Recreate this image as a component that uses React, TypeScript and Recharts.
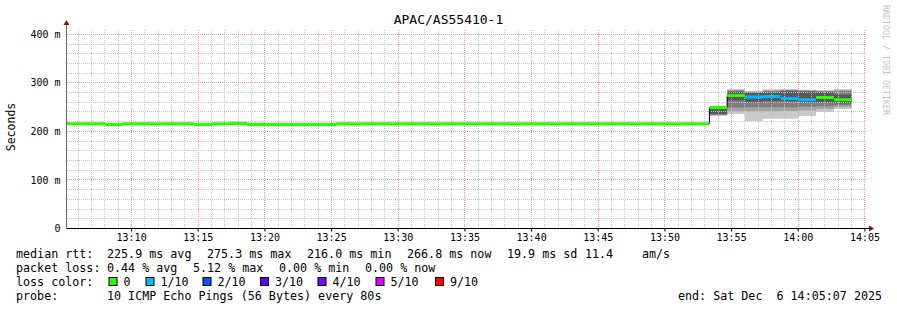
import { ComposedChart, Area, Line, XAxis, YAxis, ReferenceLine } from "recharts";

const TITLE = "APAC/AS55410-1";
const Y_LABEL = "Seconds";
const WATERMARK = "RRDTOOL / TOBI OETIKER";

// time range of the graph
const RANGE_END = "14:05:07";
const RANGE_SECONDS = 3600;
const FIRST_SAMPLE = "13:04:00";
const STEP_SECONDS = 80;

const X_TICK_LABELS = [
  "13:10", "13:15", "13:20", "13:25", "13:30", "13:35",
  "13:40", "13:45", "13:50", "13:55", "14:00", "14:05",
];
const Y_TICKS = [0, 100, 200, 300, 400];
const Y_MAX = 412;

// median rtt per 80s sample (ms)
const MEDIAN = [
  216, 216, 216, 214, 216, 216, 216, 216, 214, 216, 216.5, 214, 214, 214, 214, 214,
  216, 216, 216, 216, 216, 216, 216, 216, 216, 216, 216, 216, 216, 216, 216, 216,
  216, 216, 216, 216, 216,
  249.5, 274, 271, 272, 268, 265, 270, 265,
];
// lost pings out of 10 per sample
const LOSS = [
  0, 0, 0, 0, 0, 0, 0, 0, 0, 0, 0, 0, 0, 0, 0, 0,
  0, 0, 0, 0, 0, 0, 0, 0, 0, 0, 0, 0, 0, 0, 0, 0,
  0, 0, 0, 0, 0,
  0, 0, 1, 1, 1, 1, 0, 0,
];
// smoke bands, outer (lightest) to inner (darkest)
const B1_LO = [
  216, 216, 216, 214, 216, 216, 216, 216, 214, 216, 216.5, 214, 214, 214, 214, 214,
  216, 216, 216, 216, 216, 216, 216, 216, 216, 216, 216, 216, 216, 216, 216, 216,
  216, 216, 216, 216, 216,
  232, 236, 221, 226, 226, 232, 240, 246,
];
const B1_HI = [
  216, 216, 216, 214, 216, 216, 216, 216, 214, 216, 220.5, 218.5, 214, 214, 214, 214,
  216, 216, 216, 216, 216, 216, 216, 216, 216, 216, 216, 216, 216, 216, 216, 216,
  216, 216, 216, 216, 216,
  250.5, 287, 283, 287, 287, 286, 285, 287,
];
const B2_LO = [
  216, 216, 216, 214, 216, 216, 216, 216, 214, 216, 216.5, 214, 214, 214, 214, 214,
  216, 216, 216, 216, 216, 216, 216, 216, 216, 216, 216, 216, 216, 216, 216, 216,
  216, 216, 216, 216, 216,
  233.5, 241, 241, 241, 242, 243, 246, 250,
];
const B2_HI = [
  216, 216, 216, 214, 216, 216, 216, 216, 214, 216, 219.5, 214, 214, 214, 214, 214,
  216, 216, 216, 216, 216, 216, 216, 216, 216, 216, 216, 216, 216, 216, 216, 216,
  216, 216, 216, 216, 216,
  250, 286, 282, 285, 286, 285, 284, 286,
];
const B3_LO = [
  216, 216, 216, 214, 216, 216, 216, 216, 214, 216, 216.5, 214, 214, 214, 214, 214,
  216, 216, 216, 216, 216, 216, 216, 216, 216, 216, 216, 216, 216, 216, 216, 216,
  216, 216, 216, 216, 216,
  234.5, 249, 250, 250, 250, 251, 252, 254,
];
const B3_HI = [
  216, 216, 216, 214, 216, 216, 216, 216, 214, 216, 216.5, 214, 214, 214, 214, 214,
  216, 216, 216, 216, 216, 216, 216, 216, 216, 216, 216, 216, 216, 216, 216, 216,
  216, 216, 216, 216, 216,
  250, 284, 281, 283, 285, 284, 283, 283,
];
const B4_LO = [
  216, 216, 216, 214, 216, 216, 216, 216, 214, 216, 216.5, 214, 214, 214, 214, 214,
  216, 216, 216, 216, 216, 216, 216, 216, 216, 216, 216, 216, 216, 216, 216, 216,
  216, 216, 216, 216, 216,
  236, 264, 260, 262, 262, 260, 260, 258,
];
const B4_HI = [
  216, 216, 216, 214, 216, 216, 216, 216, 214, 216, 216.5, 214, 214, 214, 214, 214,
  216, 216, 216, 216, 216, 216, 216, 216, 216, 216, 216, 216, 216, 216, 216, 216,
  216, 216, 216, 216, 216,
  249, 282, 279, 280, 283, 282, 281, 276,
];

const LOSS_LEVELS = [0, 1, 2, 3, 4, 5, 9];
const LOSS_LABELS = ["0", "1/10", "2/10", "3/10", "4/10", "5/10", "9/10"];
const LOSS_COLORS = ["#26ff00", "#00b8ff", "#0059ff", "#5e00ff", "#7e00ff", "#dd00ff", "#ff0000"];

const RTT_STATS = ["225.9 ms avg", "275.3 ms max", "216.0 ms min", "266.8 ms now", "19.9 ms sd", "11.4", "am/s"];
const LOSS_STATS = ["0.44 % avg", "5.12 % max", "0.00 % min", "0.00 % now"];
const PROBE = "10 ICMP Echo Pings (56 Bytes) every 80s";
const END_TEXT = "end: Sat Dec  6 14:05:07 2025";

const BAND_COLORS = ["#cacaca", "#a4a4a4", "#7e7e7e", "#585858"];
const BANDS = [[B1_LO, B1_HI], [B2_LO, B2_HI], [B3_LO, B3_HI], [B4_LO, B4_HI]];

const FONT = "'DejaVu Sans Mono', monospace";

const toSec = (s: string) => {
  const [h, m, sec = 0] = s.split(":").map(Number);
  return h * 3600 + m * 60 + sec;
};

const X_END = toSec(RANGE_END);
const X_START = X_END - RANGE_SECONDS;
const X_TICKS = X_TICK_LABELS.map(toSec);
const T0 = toSec(FIRST_SAMPLE);

const fmtTime = (v: number) => {
  const h = Math.floor(v / 3600);
  const m = Math.floor((v % 3600) / 60);
  return `${h}:${String(m).padStart(2, "0")}`;
};

// each sample is a flat step: a row at its start and one at its end.
// a break row (loss lines null) keeps the coloured medians from joining up.
const rows: Record<string, any>[] = [];
MEDIAN.forEach((m, k) => {
  const shared: Record<string, any> = { median: m };
  BANDS.forEach(([lo, hi], b) => {
    shared[`b${b}`] = [lo[k], hi[k]];
  });
  const coloured: Record<string, any> = {};
  const blank: Record<string, any> = {};
  LOSS_LEVELS.forEach((l) => {
    coloured[`loss${l}`] = LOSS[k] === l ? m : null;
    blank[`loss${l}`] = null;
  });
  const start = T0 + k * STEP_SECONDS;
  rows.push({ t: start, ...shared, ...blank });
  rows.push({ t: start, ...shared, ...coloured });
  rows.push({ t: start + STEP_SECONDS, ...shared, ...coloured });
});

const minorX: number[] = [];
for (let t = Math.ceil(X_START / 60) * 60; t < X_END; t += 60) minorX.push(t);
const majorX = minorX.filter((t) => t % 300 === 0);
const minorY: number[] = [];
for (let v = 20; v < Y_MAX; v += 20) minorY.push(v);
const majorY = minorY.filter((v) => v % 100 === 0);

const MINOR = "#c4c4c4";
const MAJOR = "#ec9a9a";
const ARROW = "#8b1010";

const lossCols = [108.5, 145.5, 202.5, 260, 317.5, 375.5, 435];

export default function App() {
  return (
    <div style={{ position: "absolute", left: 0, top: 0, width: 897, height: 310, background: "#fff" }}>
      <ComposedChart
        width={897}
        height={310}
        data={rows}
        margin={{ top: 28.5, right: 30.5, bottom: 61.5, left: 8.5 }}
      >
        <XAxis
          dataKey="t"
          type="number"
          domain={[X_START, X_END]}
          allowDataOverflow
          ticks={X_TICKS}
          interval={0}
          tickFormatter={fmtTime}
          height={20}
          tickSize={3}
          tickMargin={2}
          axisLine={{ stroke: "#000" }}
          tickLine={{ stroke: "#000" }}
          tick={{ fill: "#000", fontSize: 10, fontFamily: FONT }}
        />
        <YAxis
          type="number"
          domain={[0, Y_MAX]}
          allowDataOverflow
          ticks={Y_TICKS}
          interval={0}
          width={58}
          tickSize={0}
          tickMargin={6}
          tickFormatter={(v: number) => (v === 0 ? "0" : `${v} m`)}
          axisLine={{ stroke: "#666" }}
          tickLine={false}
          tick={{ fill: "#000", fontSize: 10, fontFamily: FONT }}
        />
        {BANDS.map((_, b) => (
          <Area
            key={`band-${b}`}
            dataKey={`b${b}`}
            type="linear"
            stroke="none"
            fill={BAND_COLORS[b]}
            fillOpacity={1}
            dot={false}
            activeDot={false}
            isAnimationActive={false}
          />
        ))}
        {minorX.map((t) => (
          <ReferenceLine key={`mx-${t}`} x={t} stroke={MINOR} strokeDasharray="1 1" shapeRendering="crispEdges" />
        ))}
        {minorY.map((v) => (
          <ReferenceLine key={`my-${v}`} y={v} stroke={MINOR} strokeDasharray="1 1" shapeRendering="crispEdges" />
        ))}
        {majorX.map((t) => (
          <ReferenceLine key={`Mx-${t}`} x={t} stroke={MAJOR} strokeDasharray="1 1" shapeRendering="crispEdges" />
        ))}
        {majorY.map((v) => (
          <ReferenceLine key={`My-${v}`} y={v} stroke={MAJOR} strokeDasharray="1 1" shapeRendering="crispEdges" />
        ))}
        <Line
          dataKey="median"
          type="linear"
          stroke="#000"
          strokeWidth={1}
          dot={false}
          activeDot={false}
          isAnimationActive={false}
        />
        {LOSS_LEVELS.map((l, i) => (
          <Line
            key={`loss-${l}`}
            dataKey={`loss${l}`}
            type="linear"
            stroke={LOSS_COLORS[i]}
            strokeWidth={3}
            dot={false}
            activeDot={false}
            connectNulls={false}
            isAnimationActive={false}
          />
        ))}
      </ComposedChart>

      <svg
        width={897}
        height={310}
        style={{ position: "absolute", left: 0, top: 0, pointerEvents: "none" }}
        fontFamily={FONT}
      >
        <text x={448.5} y={24} textAnchor="middle" fontSize={13} fill="#000">
          {TITLE}
        </text>
        <text
          x={0}
          y={0}
          transform="translate(15,127) rotate(-90)"
          textAnchor="middle"
          fontSize={11.5}
          fill="#000"
        >
          {Y_LABEL}
        </text>
        <text
          x={0}
          y={0}
          transform="translate(883,5) rotate(90)"
          fontSize={8.3}
          fill="#c4c4c4"
        >
          {WATERMARK}
        </text>

        <line x1={66.5} y1={24} x2={66.5} y2={29} stroke="#666" />
        <polygon points="63.5,25 69.5,25 66.5,20" fill={ARROW} />
        <line x1={866} y1={228.5} x2={870} y2={228.5} stroke="#000" />
        <polygon points="869,225.5 869,231.5 874,228.5" fill={ARROW} />

        <g fontSize={11.7} fill="#000" style={{ whiteSpace: "pre" }}>
          <text x={16} y={258}>median rtt:</text>
          {RTT_STATS.map((s, i) => (
            <text key={s} x={[107, 207, 307, 407, 507, 585, 642][i]} y={258}>{s}</text>
          ))}
          <text x={16} y={272}>packet loss:</text>
          {LOSS_STATS.map((s, i) => (
            <text key={s + i} x={[107, 193, 279, 365][i]} y={272}>{s}</text>
          ))}
          <text x={16} y={286}>loss color:</text>
          {LOSS_LABELS.map((s, i) => (
            <g key={s}>
              <rect x={lossCols[i] + 0.5} y={277.5} width={8} height={8} fill={LOSS_COLORS[i]} stroke="#000" />
              <text x={lossCols[i] + 15} y={286}>{s}</text>
            </g>
          ))}
          <text x={16} y={300}>probe:</text>
          <text x={107} y={300}>{PROBE}</text>
          <text x={678} y={300} xmlSpace="preserve">{END_TEXT}</text>
        </g>
      </svg>
    </div>
  );
}
